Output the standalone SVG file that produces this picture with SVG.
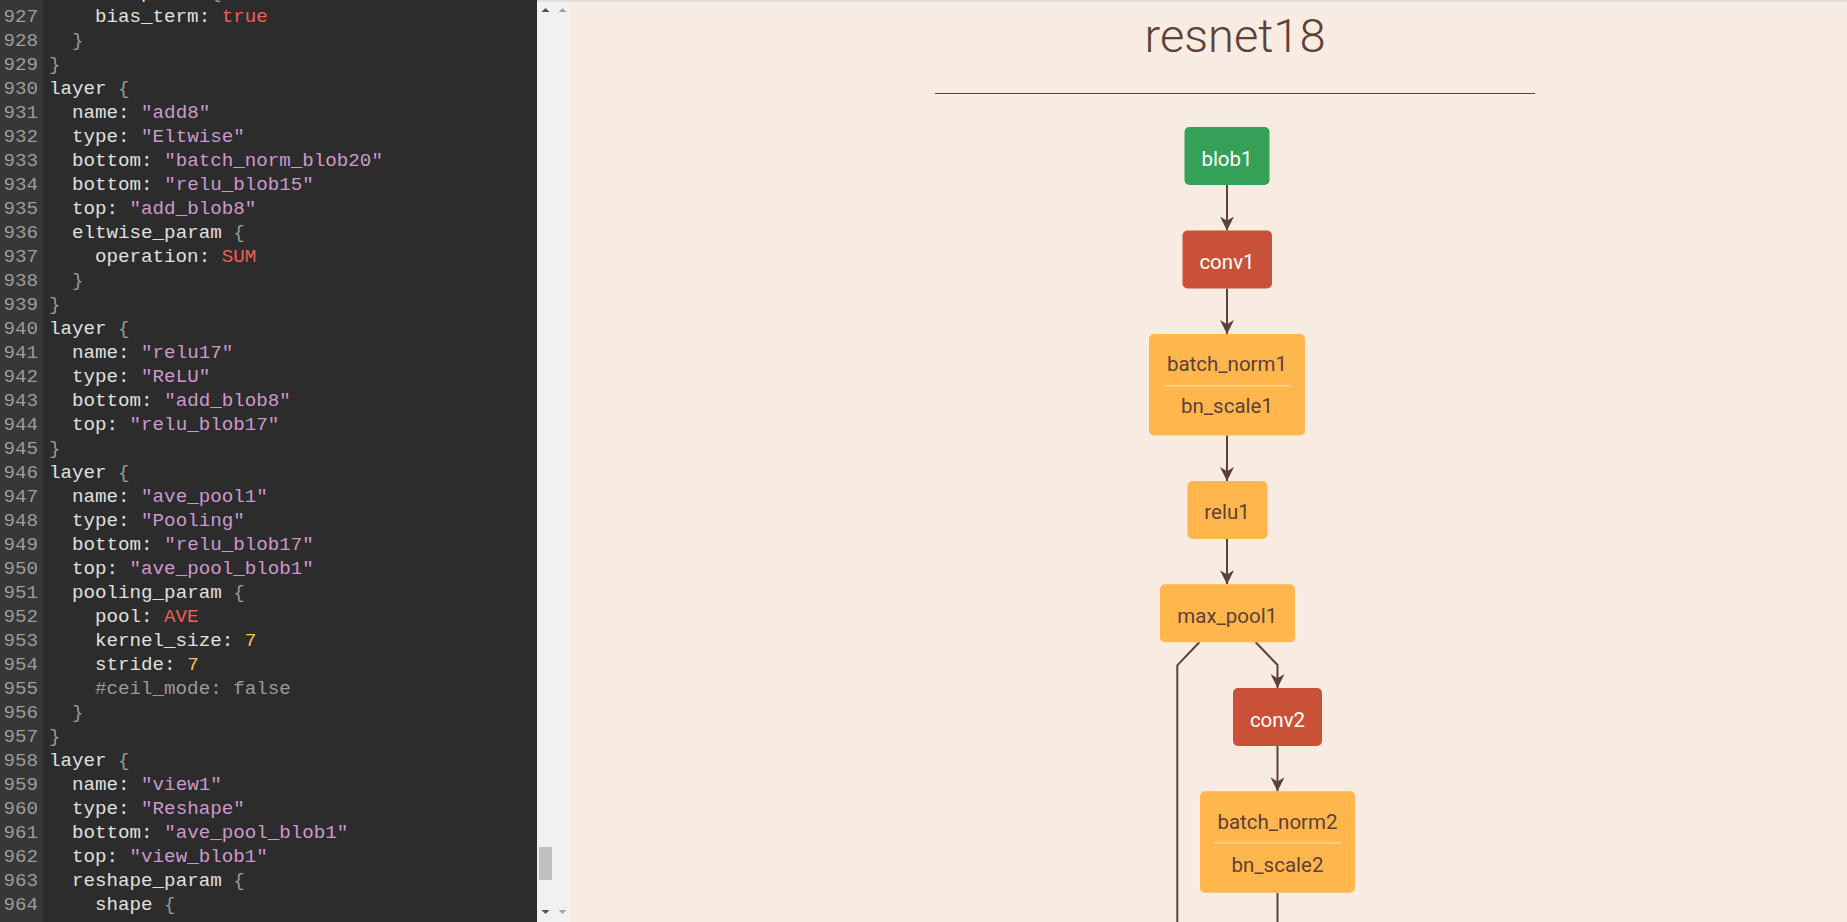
<svg xmlns="http://www.w3.org/2000/svg" width="1847" height="922" viewBox="0 0 1847 922">
<style>
.code{font-family:"Liberation Mono","DejaVu Sans Mono",monospace;font-size:19.2px;fill:#e0e0e0}
.ln{fill:#9c9c9c;text-anchor:end}
.s{fill:#cc99cc}.k{fill:#ef5f55}.n{fill:#fcc24e}.c{fill:#9a9a9a}.p{fill:#9a9a9a}
.node rect{stroke:none}
.orange{fill:#ffb74d}.red{fill:#c95137}.green{fill:#35a058}
.nt{font-family:Roboto,"Liberation Sans",sans-serif;font-size:20.5px;text-anchor:middle;fill:#5d4037}
.nw{fill:#ffffff}
.div{stroke:#ffd48f;stroke-width:1.5}
.edge{fill:none;stroke:#5d4037;stroke-width:2}
</style>
<defs>
<marker id="vee" viewBox="0 0 10 10" refX="10" refY="5" markerUnits="userSpaceOnUse" markerWidth="14" markerHeight="14" orient="auto">
<path d="M0,0 L10,5 L0,10 L3,5 z" fill="#5d4037"/>
</marker>
</defs>
<!-- backgrounds -->
<rect x="0" y="0" width="537" height="922" fill="#2c2c2c"/>
<rect x="0" y="0" width="43" height="922" fill="#373737"/>
<rect x="537" y="0" width="34" height="922" fill="#f1f1f1"/>
<rect x="571" y="0" width="1276" height="922" fill="#f7ebe2"/>
<rect x="537" y="0" width="1310" height="1.5" fill="#dcdcdc"/>
<!-- scrollbars -->
<g id="scrollbar">
<path d="M541.5,12 L545.5,8 L549.5,12 z" fill="#505050"/>
<path d="M558.5,12 L562.5,8 L566.5,12 z" fill="#a3a3a3"/>
<path d="M541.5,910 L545.5,914 L549.5,910 z" fill="#505050"/>
<path d="M558.5,910 L562.5,914 L566.5,910 z" fill="#a3a3a3"/>
<rect x="539" y="847" width="13" height="33" fill="#c1c1c1"/>
</g>
<!-- code editor -->
<g id="code" class="code">
<g class="ln">
<text x="38" y="22">927</text><text x="38" y="46">928</text><text x="38" y="70">929</text><text x="38" y="94">930</text><text x="38" y="118">931</text><text x="38" y="142">932</text><text x="38" y="166">933</text><text x="38" y="190">934</text><text x="38" y="214">935</text><text x="38" y="238">936</text><text x="38" y="262">937</text><text x="38" y="286">938</text><text x="38" y="310">939</text><text x="38" y="334">940</text><text x="38" y="358">941</text><text x="38" y="382">942</text><text x="38" y="406">943</text><text x="38" y="430">944</text><text x="38" y="454">945</text><text x="38" y="478">946</text><text x="38" y="502">947</text><text x="38" y="526">948</text><text x="38" y="550">949</text><text x="38" y="574">950</text><text x="38" y="598">951</text><text x="38" y="622">952</text><text x="38" y="646">953</text><text x="38" y="670">954</text><text x="38" y="694">955</text><text x="38" y="718">956</text><text x="38" y="742">957</text><text x="38" y="766">958</text><text x="38" y="790">959</text><text x="38" y="814">960</text><text x="38" y="838">961</text><text x="38" y="862">962</text><text x="38" y="886">963</text><text x="38" y="910">964</text>
</g>
<text x="72" y="-2">scale_param <tspan class="p">{</tspan></text>
<text x="95" y="22">bias_term: <tspan class="k">true</tspan></text>
<text x="72" y="46" class="p">}</text>
<text x="49" y="70" class="p">}</text>
<text x="49" y="94">layer <tspan class="p">{</tspan></text>
<text x="72" y="118">name: <tspan class="s">"add8"</tspan></text>
<text x="72" y="142">type: <tspan class="s">"Eltwise"</tspan></text>
<text x="72" y="166">bottom: <tspan class="s">"batch_norm_blob20"</tspan></text>
<text x="72" y="190">bottom: <tspan class="s">"relu_blob15"</tspan></text>
<text x="72" y="214">top: <tspan class="s">"add_blob8"</tspan></text>
<text x="72" y="238">eltwise_param <tspan class="p">{</tspan></text>
<text x="95" y="262">operation: <tspan class="k">SUM</tspan></text>
<text x="72" y="286" class="p">}</text>
<text x="49" y="310" class="p">}</text>
<text x="49" y="334">layer <tspan class="p">{</tspan></text>
<text x="72" y="358">name: <tspan class="s">"relu17"</tspan></text>
<text x="72" y="382">type: <tspan class="s">"ReLU"</tspan></text>
<text x="72" y="406">bottom: <tspan class="s">"add_blob8"</tspan></text>
<text x="72" y="430">top: <tspan class="s">"relu_blob17"</tspan></text>
<text x="49" y="454" class="p">}</text>
<text x="49" y="478">layer <tspan class="p">{</tspan></text>
<text x="72" y="502">name: <tspan class="s">"ave_pool1"</tspan></text>
<text x="72" y="526">type: <tspan class="s">"Pooling"</tspan></text>
<text x="72" y="550">bottom: <tspan class="s">"relu_blob17"</tspan></text>
<text x="72" y="574">top: <tspan class="s">"ave_pool_blob1"</tspan></text>
<text x="72" y="598">pooling_param <tspan class="p">{</tspan></text>
<text x="95" y="622">pool: <tspan class="k">AVE</tspan></text>
<text x="95" y="646">kernel_size: <tspan class="n">7</tspan></text>
<text x="95" y="670">stride: <tspan class="n">7</tspan></text>
<text x="95" y="694" class="c">#ceil_mode: false</text>
<text x="72" y="718" class="p">}</text>
<text x="49" y="742" class="p">}</text>
<text x="49" y="766">layer <tspan class="p">{</tspan></text>
<text x="72" y="790">name: <tspan class="s">"view1"</tspan></text>
<text x="72" y="814">type: <tspan class="s">"Reshape"</tspan></text>
<text x="72" y="838">bottom: <tspan class="s">"ave_pool_blob1"</tspan></text>
<text x="72" y="862">top: <tspan class="s">"view_blob1"</tspan></text>
<text x="72" y="886">reshape_param <tspan class="p">{</tspan></text>
<text x="95" y="910">shape <tspan class="p">{</tspan></text>
</g>
<!-- title -->
<g id="title">
<text x="1235" y="52" font-family="Roboto, 'Liberation Sans', sans-serif" font-weight="300" font-size="47" text-anchor="middle" fill="#5d4037">resnet18</text>
<line x1="935" y1="93.5" x2="1535" y2="93.5" stroke="#5d4037" stroke-width="1.2"/>
</g>
<!-- connectors -->
<g id="edges">
<path class="edge" d="M1227,185 L1227,230.5" marker-end="url(#vee)"/>
<path class="edge" d="M1227,288.5 L1227,334" marker-end="url(#vee)"/>
<path class="edge" d="M1227,435.5 L1227,481" marker-end="url(#vee)"/>
<path class="edge" d="M1227,539 L1227,584.3" marker-end="url(#vee)"/>
<path class="edge" d="M1255.7,642.3 L1277.5,665 L1277.5,688" marker-end="url(#vee)"/>
<path class="edge" d="M1277.5,746 L1277.5,791.3" marker-end="url(#vee)"/>
<path class="edge" d="M1199.3,642.3 L1177.3,665.3 L1177.3,930"/>
<path class="edge" d="M1277.5,893 L1277.5,930"/>
</g>
<!-- nodes -->
<g id="node-blob1" class="node">
<rect class="green" x="1184.5" y="127" width="85" height="58" rx="5"/>
<text class="nt nw" x="1227" y="165.5">blob1</text>
</g>
<g id="node-conv1" class="node">
<rect class="red" x="1182.5" y="230.5" width="89.5" height="58" rx="5"/>
<text class="nt nw" x="1227" y="269">conv1</text>
</g>
<g id="node-batch_norm1" class="node">
<rect class="orange" x="1149" y="334" width="156" height="101.5" rx="5"/>
<text class="nt" x="1227" y="370.7">batch_norm1</text>
<line class="div" x1="1164" y1="385.7" x2="1290.5" y2="385.7"/>
<text class="nt" x="1227" y="413.3">bn_scale1</text>
</g>
<g id="node-relu1" class="node">
<rect class="orange" x="1187.5" y="481" width="80" height="58" rx="5"/>
<text class="nt" x="1227" y="519">relu1</text>
</g>
<g id="node-max_pool1" class="node">
<rect class="orange" x="1160" y="584.3" width="135" height="58" rx="5"/>
<text class="nt" x="1227.3" y="623">max_pool1</text>
</g>
<g id="node-conv2" class="node">
<rect class="red" x="1233" y="688" width="89" height="58" rx="5"/>
<text class="nt nw" x="1277.5" y="726.5">conv2</text>
</g>
<g id="node-batch_norm2" class="node">
<rect class="orange" x="1200" y="791.3" width="155" height="101.5" rx="5"/>
<text class="nt" x="1277.5" y="829">batch_norm2</text>
<line class="div" x1="1214" y1="842.7" x2="1341" y2="842.7"/>
<text class="nt" x="1277.5" y="871.7">bn_scale2</text>
</g>
</svg>
